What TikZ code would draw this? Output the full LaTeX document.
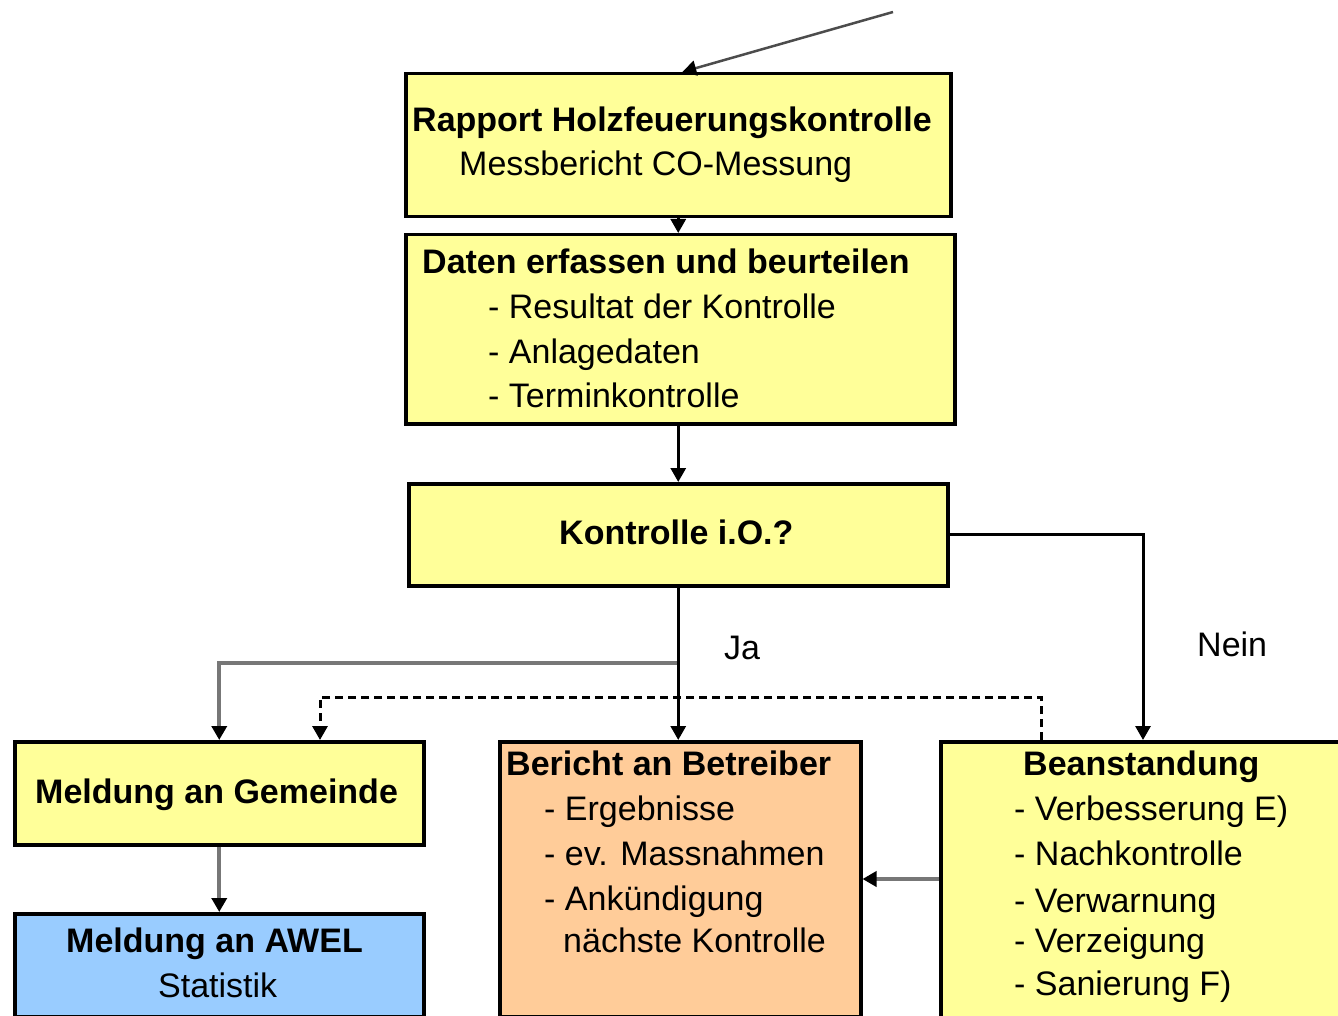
\documentclass[tikz,border=0pt]{standalone}
\usepackage{fontspec}
\setmainfont{Liberation Sans}
\usetikzlibrary{arrows.meta,calc}
\definecolor{ylw}{HTML}{FFFF99}
\definecolor{peach}{HTML}{FFCC99}
\definecolor{skyb}{HTML}{99CCFF}
\definecolor{gline}{HTML}{777777}
\tikzset{
  box/.style={draw=black, line width=3.5pt, rectangle, inner sep=0pt, anchor=north west},
  txt/.style={inner sep=0pt, anchor=base west, font=\fontsize{34}{40}\selectfont},
  btxt/.style={txt, font=\fontsize{34}{40}\selectfont\bfseries},
  tip/.style={-{Triangle[width=15pt,length=14pt,black]}},
  blk/.style={tip, draw=black, line width=3pt},
  gry/.style={tip, draw=gline, line width=4pt},
  dsh/.style={tip, draw=black, line width=3pt, dash pattern=on 8pt off 5pt},
}
\begin{document}
\begin{tikzpicture}[x=1pt,y=-1pt]
\useasboundingbox (0,0) rectangle (1338,1016);
% boxes
\node[box, fill=ylw, minimum width=545pt, minimum height=143pt] (rapport) at (404,72) {};
\node[box, fill=ylw, minimum width=549pt, minimum height=189pt] (daten) at (404,233) {};
\node[box, fill=ylw, minimum width=539pt, minimum height=102pt] (kontrolle) at (407,482) {};
\node[box, fill=ylw, minimum width=409pt, minimum height=103pt] (gemeinde) at (13,740) {};
\node[box, fill=skyb, minimum width=409pt, minimum height=103pt] (awel) at (13,912) {};
\node[box, fill=peach, minimum width=361pt, minimum height=275pt] (bericht) at (498,740) {};
\node[box, fill=ylw, minimum width=420pt, minimum height=300pt] (beanst) at (939,740) {};
% texts
\node[btxt] (t1) at (412,132) {Rapport Holzfeuerungskontrolle};
\node[txt] (t2) at (459,176) {Messbericht CO-Messung};
\node[btxt] (t3) at (422,273) {Daten erfassen und beurteilen};
\node[txt] (t4) at (488,318) {- Resultat der Kontrolle};
\node[txt] (t5) at (488,363) {- Anlagedaten};
\node[txt] (t6) at (488,407) {- Terminkontrolle};
\node[btxt] (t7) at (559,544) {Kontrolle i.O.?};
\node[txt] (ja) at (724,659) {Ja};
\node[txt] (nein) at (1197,656) {Nein};
\node[btxt] (t8) at (35,803) {Meldung an Gemeinde};
\node[btxt] (t9) at (66,952) {Meldung an AWEL};
\node[txt] (t10) at (158,997) {Statistik};
\node[btxt] (t11) at (506,775) {Bericht an Betreiber};
\node[txt] (t12) at (544,820) {- Ergebnisse};
\node[txt] (t13) at (544,865) {- ev. Massnahmen};
\node[txt] (t14) at (544,910) {- Ankündigung};
\node[txt] (t15) at (563,952) {nächste Kontrolle};
\node[btxt] (t16) at (1023,775) {Beanstandung};
\node[txt] (t17) at (1014,820) {- Verbesserung E)};
\node[txt] (t18) at (1014,865) {- Nachkontrolle};
\node[txt] (t19) at (1014,912) {- Verwarnung};
\node[txt] (t20) at (1014,952) {- Verzeigung};
\node[txt] (t21) at (1014,995) {- Sanierung F)};
% connectors
\coordinate (start) at (893,12);
\draw[tip, draw=black!70, line width=2.5pt] (start) -- ([xshift=4pt]rapport.north);
\draw[blk] (rapport.south) -- (rapport.south |- daten.north);
\draw[blk] (kontrolle.north |- daten.south) -- (kontrolle.north);
\draw[blk] (kontrolle.south) -- (kontrolle.south |- bericht.north);
\coordinate (jn) at (677,663);
\draw[gry] (jn) -| (gemeinde.north);
\draw[dsh] ([xshift=102pt]beanst.north west) -- ++(0,-43) -| ([xshift=307pt]gemeinde.north west);
\draw[blk] (kontrolle.east) -| ([xshift=204pt]beanst.north west);
\draw[gry] (gemeinde.south) -- (awel.north);
\draw[gry] ([yshift=-139pt]beanst.north west) -- ([yshift=-139pt]bericht.north east);
\end{tikzpicture}
\end{document}
